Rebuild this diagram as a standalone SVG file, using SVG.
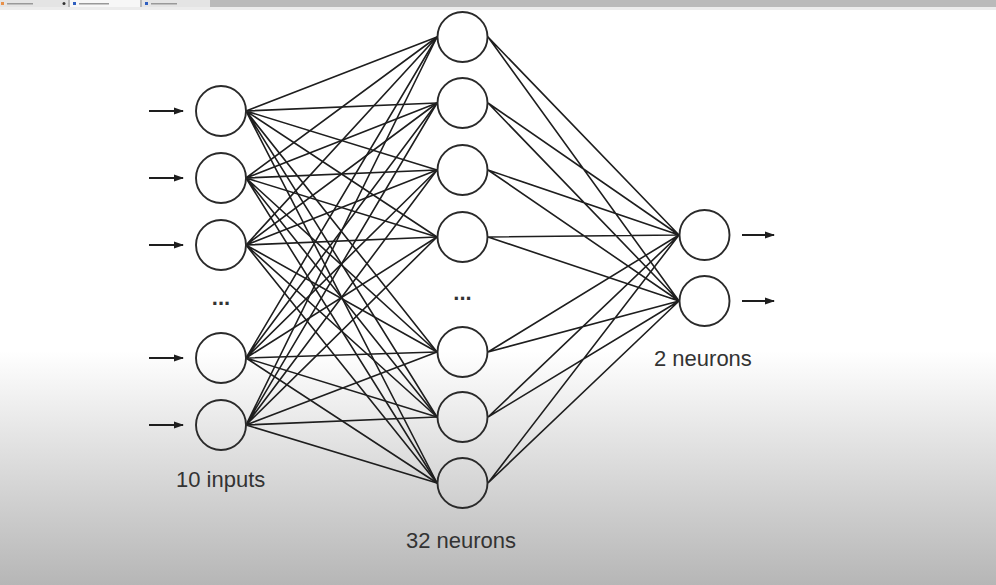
<svg xmlns="http://www.w3.org/2000/svg" width="996" height="585" viewBox="0 0 996 585">
<defs>
<linearGradient id="bg" x1="0" y1="0" x2="0" y2="585" gradientUnits="userSpaceOnUse">
<stop offset="0" stop-color="#ffffff"/>
<stop offset="0.6" stop-color="#ffffff"/>
<stop offset="1" stop-color="#b6b6b6"/>
</linearGradient>
<marker id="ah" viewBox="0 0 10 10" refX="9" refY="5" markerWidth="10" markerHeight="10" markerUnits="userSpaceOnUse" orient="auto">
<path d="M0,1.5 L10,5 L0,8.5 Z" fill="#1e1e1e"/>
</marker>
<style>
.n{fill:none;stroke:#2a2a2a;stroke-width:1.9}
.e{stroke:#1e1e1e;stroke-width:1.6;fill:none}
.a{stroke:#1e1e1e;stroke-width:2;fill:none;marker-end:url(#ah)}
.t{font-family:"Liberation Sans",Arial,sans-serif;font-size:22px;fill:#333}
.d{font-family:"Liberation Sans",Arial,sans-serif;font-size:22px;font-weight:bold;fill:#333;text-anchor:middle}
</style>
</defs>
<rect x="0" y="0" width="996" height="585" fill="url(#bg)"/>
<!-- browser tab bar -->
<g id="tabbar">
<rect x="0" y="0" width="996" height="7" fill="#bababa"/>
<rect x="0" y="7" width="996" height="3" fill="#ececec"/>
<rect x="0" y="0" width="68" height="7" fill="#e4e4e4"/>
<rect x="1" y="2" width="3" height="3" fill="#e8904a"/>
<rect x="7" y="3" width="26" height="1.5" fill="#999"/>
<circle cx="64" cy="3.5" r="1.5" fill="#333"/>
<rect x="70" y="0" width="70" height="7" fill="#f7f7f7"/>
<rect x="73" y="2" width="3" height="3" fill="#2f5fc0"/>
<rect x="79" y="3" width="30" height="1.5" fill="#999"/>
<rect x="142" y="0" width="68" height="7" fill="#e4e4e4"/>
<rect x="145" y="2" width="3" height="3" fill="#2f5fc0"/>
<rect x="151" y="3" width="26" height="1.5" fill="#999"/>
</g>
<g id="connectors">
<!-- input to hidden -->
<g class="e">
<path d="M246,111 L437,37 M246,111 L437,103 M246,111 L437,170 M246,111 L437,237 M246,111 L437,352 M246,111 L437,417 M246,111 L437,483"/>
<path d="M246,178 L437,37 M246,178 L437,103 M246,178 L437,170 M246,178 L437,237 M246,178 L437,352 M246,178 L437,417 M246,178 L437,483"/>
<path d="M246,245 L437,37 M246,245 L437,103 M246,245 L437,170 M246,245 L437,237 M246,245 L437,352 M246,245 L437,417 M246,245 L437,483"/>
<path d="M246,358 L437,37 M246,358 L437,103 M246,358 L437,170 M246,358 L437,237 M246,358 L437,352 M246,358 L437,417 M246,358 L437,483"/>
<path d="M246,425 L437,37 M246,425 L437,103 M246,425 L437,170 M246,425 L437,237 M246,425 L437,352 M246,425 L437,417 M246,425 L437,483"/>
</g>
<!-- hidden to output -->
<g class="e">
<path d="M488,37 L679,235 M488,37 L679,301 M488,103 L679,235 M488,103 L679,301 M488,170 L679,235 M488,170 L679,301 M488,237 L679,235 M488,237 L679,301"/>
<path d="M488,352 L679,235 M488,352 L679,301 M488,417 L679,235 M488,417 L679,301 M488,483 L679,235 M488,483 L679,301"/>
</g>
<!-- input arrows -->
<path class="a" d="M149,111 H183"/>
<path class="a" d="M149,178 H183"/>
<path class="a" d="M149,245 H183"/>
<path class="a" d="M149,358 H183"/>
<path class="a" d="M149,425 H183"/>
<!-- output arrows -->
<path class="a" d="M742,235 H774"/>
<path class="a" d="M742,301 H774"/>
</g>
<g id="input-layer">
<circle id="in1" class="n" cx="221" cy="111" r="25"/>
<circle id="in2" class="n" cx="221" cy="178" r="25"/>
<circle id="in3" class="n" cx="221" cy="245" r="25"/>
<text class="d" x="221" y="305">...</text>
<circle id="in4" class="n" cx="221" cy="358" r="25"/>
<circle id="in5" class="n" cx="221" cy="425" r="25"/>
<text class="t" x="176" y="487">10 inputs</text>
</g>
<g id="hidden-layer">
<circle id="h1" class="n" cx="462.5" cy="37" r="25"/>
<circle id="h2" class="n" cx="462.5" cy="103" r="25"/>
<circle id="h3" class="n" cx="462.5" cy="170" r="25"/>
<circle id="h4" class="n" cx="462.5" cy="237" r="25"/>
<text class="d" x="462.5" y="300">...</text>
<circle id="h5" class="n" cx="462.5" cy="352" r="25"/>
<circle id="h6" class="n" cx="462.5" cy="417" r="25"/>
<circle id="h7" class="n" cx="462.5" cy="483" r="25"/>
<text class="t" x="406" y="548">32 neurons</text>
</g>
<g id="output-layer">
<circle id="o1" class="n" cx="704.5" cy="235" r="25"/>
<circle id="o2" class="n" cx="704.5" cy="301" r="25"/>
<text class="t" x="654" y="366">2 neurons</text>
</g>
</svg>
